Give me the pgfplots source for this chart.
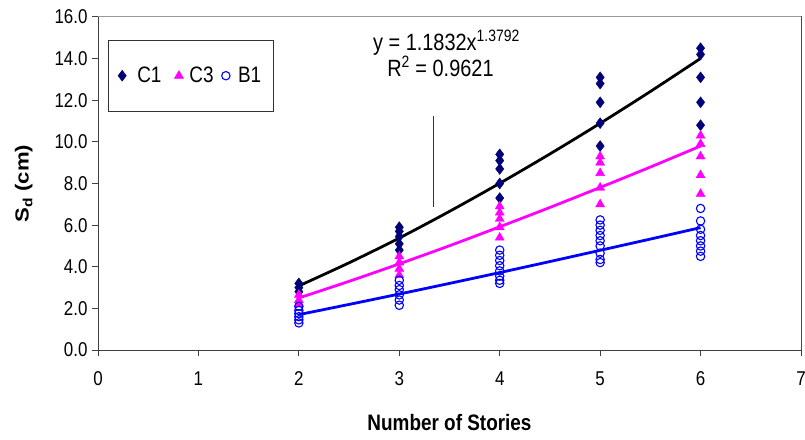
\documentclass[border=0pt]{standalone}
\usepackage{pgfplots}
\pgfplotsset{compat=1.18}
\usepackage{graphicx}
\usepackage{fontspec}
\setmainfont{Liberation Sans}

\definecolor{cnavy}{RGB}{0,0,120}
\definecolor{cmag}{RGB}{255,0,255}
\definecolor{cblue}{RGB}{0,0,255}
% the reference text is a little taller than it is wide
\newcommand{\vs}[1]{\scalebox{1}[1.18]{#1}}

\begin{document}
\begin{tikzpicture}
\path[use as bounding box] (-98bp,-90bp) rectangle (707bp,350bp);
\begin{axis}[
  at={(0,0)}, anchor=south west,
  scale only axis, width=703bp, height=333bp,
  xmin=0, xmax=7, ymin=0, ymax=16,
  xtick={0,...,7}, ytick={0,2,...,16},
  tick align=outside, tick pos=left,
  major tick length=6bp,
  axis line style={draw=black!75, line width=1pt},
  every tick/.style={black!75, line width=1pt},
  /pgf/number format/assume math mode=true,
  xticklabel={\vs{\pgfmathprintnumber{\tick}}},
  yticklabel={\vs{\pgfmathprintnumber[fixed,fixed zerofill,precision=1]{\tick}}},
  ticklabel style={font=\fontsize{17}{20}\selectfont},
  xticklabel style={yshift=-12bp},
  yticklabel style={xshift=-1bp},
  xlabel={\vs{\bfseries Number of Stories}},
  ylabel={\scalebox{1.17}[1]{\bfseries S\textsubscript{d} (cm)}},
  label style={font=\fontsize{19}{22}\selectfont},
  xlabel style={yshift=-22bp},
  ylabel style={yshift=15bp},
  legend columns=3,
  legend style={at={(0.014,0.931)}, anchor=north west, draw=black!80,
    font=\fontsize{19}{22}\selectfont, inner xsep=10bp, inner ysep=25bp},
  legend image code/.code={\draw[#1] plot coordinates {(0.2cm,0cm)};},
  legend cell align=left,
]
\addplot[only marks, mark=diamond*, mark size=5.5bp, color=cnavy] coordinates {
 (2,3.2) (2,3.0) (2,2.8)
 (3,5.9) (3,5.7) (3,5.45) (3,5.1) (3,4.8)
 (4,9.4) (4,9.1) (4,8.7) (4,8.0) (4,7.3)
 (5,13.1) (5,12.8) (5,11.9) (5,10.9) (5,9.8)
 (6,14.5) (6,14.2) (6,13.1) (6,11.9) (6,10.8)
};
\addlegendentry{\hspace{9bp}\vs{C1}\rule{11bp}{0pt}}
\addplot[only marks, mark=triangle*, mark size=5.2bp, color=cmag] coordinates {
 (2,2.65) (2,2.4) (2,2.2)
 (3,4.5) (3,4.2) (3,3.9) (3,3.6)
 (4,6.9) (4,6.6) (4,6.3) (4,5.9) (4,5.4)
 (5,9.3) (5,9.0) (5,8.5) (5,7.8) (5,7.0)
 (6,10.3) (6,9.9) (6,9.3) (6,8.4) (6,7.5)
};
\addlegendentry{\hspace{4bp}\vs{C3}\rule{6bp}{0pt}}
\addplot[only marks, mark=o, mark size=4.2bp, color=cblue, mark options={line width=1.1pt}] coordinates {
 (2,2.1) (2,1.9) (2,1.75) (2,1.6) (2,1.45) (2,1.3)
 (3,3.35) (3,3.1) (3,2.9) (3,2.65) (3,2.4) (3,2.15)
 (4,4.8) (4,4.55) (4,4.3) (4,4.05) (4,3.8) (4,3.55) (4,3.35) (4,3.2)
 (5,6.25) (5,6.0) (5,5.75) (5,5.5) (5,5.25) (5,5.0) (5,4.65) (5,4.35) (5,4.2)
 (6,6.8) (6,6.2) (6,5.8) (6,5.5) (6,5.25) (6,5.0) (6,4.75) (6,4.5)
};
\addlegendentry{\hspace{6bp}\vs{B1}}
% trendlines
\addplot[forget plot, black, line width=2.8pt, smooth] coordinates {
 (2,3.08) (2.5,4.19) (3,5.38) (3.5,6.66) (4,8.01) (4.5,9.42) (5,10.89) (5.5,12.42) (6,14.01)
};
\addplot[forget plot, cmag, line width=2.8pt, smooth] coordinates {
 (2,2.50) (2.5,3.30) (3,4.14) (3.5,5.01) (4,5.92) (4.5,6.85) (5,7.81) (5.5,8.79) (6,9.80)
};
\addplot[forget plot, cblue, line width=2.8pt, smooth] coordinates {
 (2,1.70) (2.5,2.19) (3,2.69) (3.5,3.20) (4,3.72) (4.5,4.25) (5,4.79) (5.5,5.33) (6,5.88)
};
\draw[black!80, line width=1pt] (axis cs:3.34,11.25) -- (axis cs:3.34,6.85);
\node[font=\fontsize{20}{23}\selectfont] at (axis cs:3.47,14.75) {\vs{y = 1.1832x\textsuperscript{1.3792}}};
\node[font=\fontsize{20}{23}\selectfont] at (axis cs:3.41,13.62) {\vs{R\textsuperscript{2} = 0.9621}};
\draw[black!40, line width=1pt] (rel axis cs:0,1) -- (rel axis cs:1,1) -- (rel axis cs:1,0);
\end{axis}
\end{tikzpicture}
\end{document}
